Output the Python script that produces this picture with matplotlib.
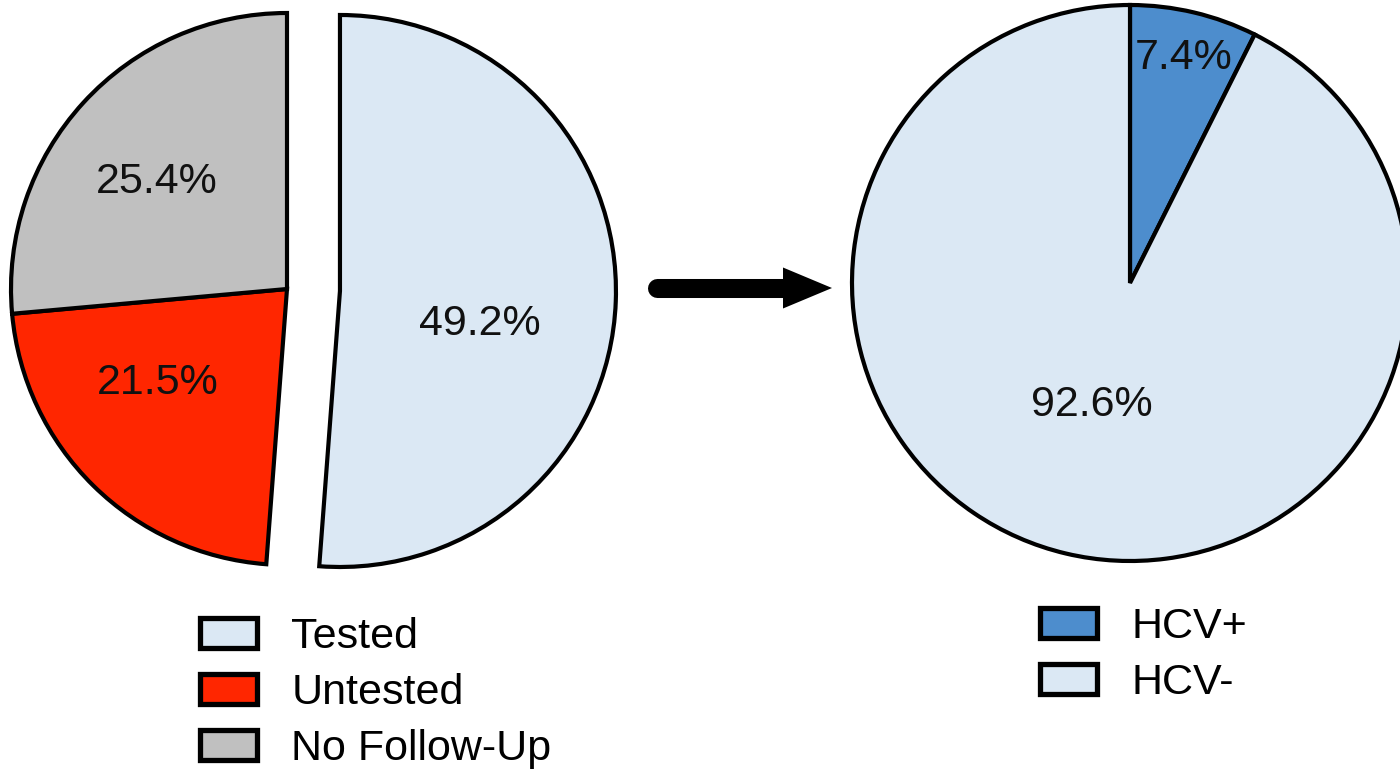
import numpy as np
import matplotlib.pyplot as plt

plt.rcParams['font.family'] = ['Liberation Sans', 'DejaVu Sans']

# screening outcome
screen_labels = ["Tested", "Untested", "No Follow-Up"]
screen_values = [49.2, 21.5, 25.4]
screen_colors = ["#dbe8f4", "#ff2600", "#c0c0c0"]

# result among those tested
hcv_labels = ["HCV+", "HCV-"]
hcv_values = [7.4, 92.6]
hcv_colors = ["#4d8dcd", "#dbe8f4"]

W, H = 1400, 769
FS = 31


def draw_pie(ax, values, colors, center, radius, explode, label_dist, label_shift):
    wedges, _ = ax.pie(values, colors=colors, center=center, radius=radius,
                       explode=explode, startangle=90, counterclock=False,
                       wedgeprops=dict(edgecolor="black", linewidth=3))
    # percentage labels use the raw values, placed inside each wedge
    for w, v, d, s in zip(wedges, values, label_dist, label_shift):
        mid = np.deg2rad((w.theta1 + w.theta2) / 2 + s)
        cx, cy = w.center
        ax.text(cx + d * w.r * np.cos(mid), cy + d * w.r * np.sin(mid), f"{v}%",
                ha="center", va="center", fontsize=FS, color="#111111")
    return wedges


def main():
    fig = plt.figure(figsize=(W / 100, H / 100), dpi=100)
    ax = fig.add_axes([0, 0, 1, 1])

    left = draw_pie(ax, screen_values, screen_colors, (287, H - 289), 276,
                    [53, 0, 0], [0.52, 0.58, 0.61], [-11, -9.5, 3])
    right = draw_pie(ax, hcv_values, hcv_colors, (1130, H - 283), 278,
                     [0, 0], [0.83, 0.46], [0, -4])

    # arrow between the two pies
    ay = H - 288
    ax.plot([657, 795], [ay, ay], color="black", lw=13.7, solid_capstyle="round")
    ax.arrow(782, ay, 50, 0, width=0.1, head_width=41, head_length=49,
             length_includes_head=True, color="black", lw=0)

    # pie() resets the limits, so fix the pixel frame afterwards
    ax.set_xlim(0, W)
    ax.set_ylim(0, H)
    ax.set_aspect("equal")
    ax.axis("off")

    leg_kw = dict(frameon=False, fontsize=FS, handlelength=1.32, handleheight=0.68,
                  handletextpad=0.8, labelspacing=0.37, borderpad=0, borderaxespad=0,
                  loc="upper left")
    leg1 = fig.legend(left, screen_labels, bbox_to_anchor=(200 / W, 1 - 617 / H), **leg_kw)
    leg2 = fig.legend(right, hcv_labels, bbox_to_anchor=(1040 / W, 1 - 607 / H), **leg_kw)
    for leg in (leg1, leg2):
        for h in leg.legend_handles:
            h.set_linewidth(3.8)

    fig.savefig("out.png", dpi=100)


if __name__ == "__main__":
    main()
